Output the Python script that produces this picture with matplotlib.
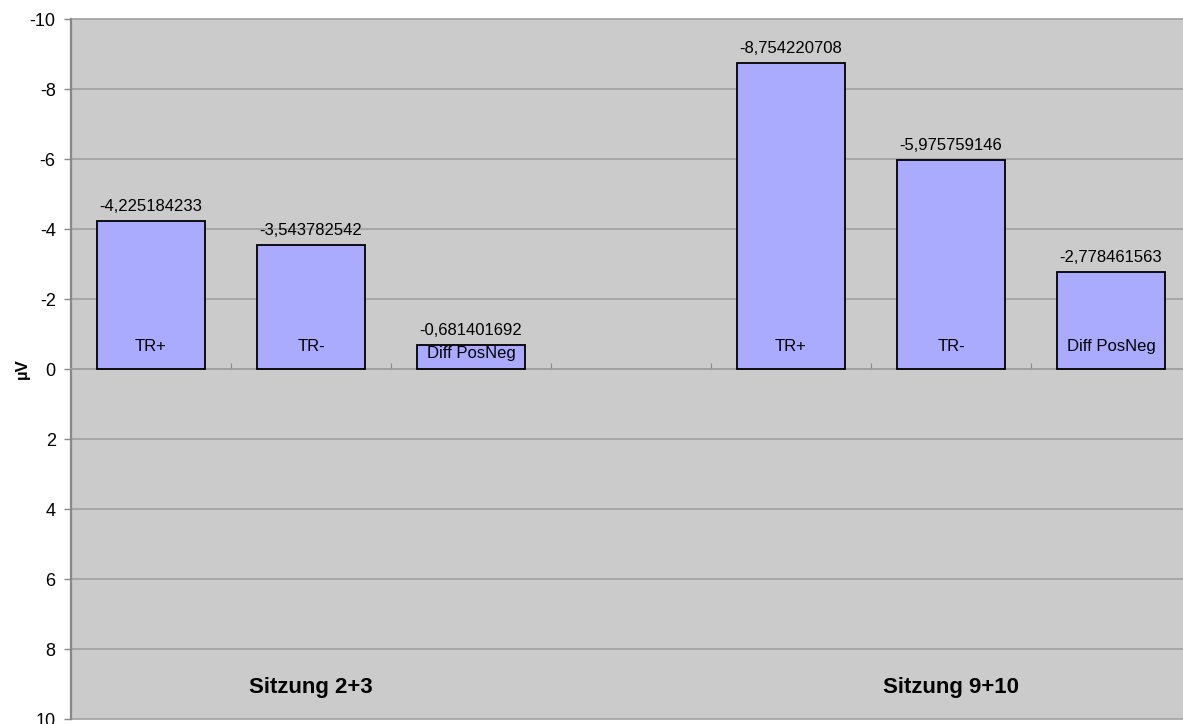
import matplotlib
matplotlib.use("Agg")
import matplotlib.pyplot as plt
import numpy as np

# Session groups and the measures shown for each
groups = ["Sitzung 2+3", "Sitzung 9+10"]
measures = ["TR+", "TR-", "Diff PosNeg"]
values_s23 = [-4.225184233, -3.543782542, -0.681401692]
values_s910 = [-8.754220708, -5.975759146, -2.778461563]
y_ticks = [-10, -8, -6, -4, -2, 0, 2, 4, 6, 8, 10]

plt.rcParams["font.family"] = ["Liberation Sans", "DejaVu Sans"]

fig = plt.figure(figsize=(11.83, 7.24), dpi=100)
W, H = 1183, 724
left, right, top, bottom = 71, 1191, 19, 719
ax = fig.add_axes([left / W, (H - bottom) / H, (right - left) / W, (bottom - top) / H])

bg = "#CBCBCB"
bar_color = "#AAAAFF"
grid_color = "#A0A0A0"
axis_color = "#888888"

ax.set_facecolor(bg)

# Seven slots: three bars, one empty gap, three bars
positions_s23 = np.arange(3)
positions_s910 = np.arange(3) + 4
all_pos = np.concatenate([positions_s23, positions_s910])
all_vals = values_s23 + values_s910
all_names = measures + measures

ax.set_xlim(-0.5, 6.5)
ax.set_ylim(10, -10)

for yt in y_ticks:
    ax.axhline(yt, color=grid_color, lw=1.2, zorder=1, clip_on=False)

bars = ax.bar(all_pos, all_vals, width=0.675, color=bar_color,
              edgecolor="black", linewidth=1.3, zorder=3)

for p, v, name in zip(all_pos, all_vals, all_names):
    ax.annotate(f"{v:.9f}".replace(".", ","), xy=(p, v), xytext=(0, 5),
                textcoords="offset points", ha="center", va="bottom",
                fontsize=12, color="black", zorder=5)
    # name sits near the base; in a very short bar it fills the bar
    name_y = -0.45 if abs(v) < 1 else -0.63
    ax.text(p, name_y, name, ha="center", va="center", fontsize=12,
            color="black", zorder=5)

for g, pos in zip(groups, [positions_s23, positions_s910]):
    ax.text(pos.mean(), 9.1, g, ha="center", va="center", fontsize=16,
            fontweight="bold", color="black", zorder=5)

# Category axis runs along zero with small tick marks between slots
ax.spines["bottom"].set_position(("data", 0))
ax.spines["bottom"].set_color(grid_color)
ax.spines["bottom"].set_linewidth(1.2)
ax.spines["top"].set_visible(False)
ax.spines["right"].set_visible(False)
ax.spines["left"].set_color(axis_color)
ax.spines["left"].set_linewidth(1.6)

ax.set_xticks(np.arange(0.5, 6.5, 1.0))
ax.set_xticklabels([])
ax.tick_params(axis="x", direction="in", length=4, width=0.8, color=axis_color)

ax.set_yticks(y_ticks)
ax.set_yticklabels([str(t) for t in y_ticks])
ax.tick_params(axis="y", direction="out", length=5, width=1.0,
               color=axis_color, labelsize=13, pad=6)

fig.text(22 / W, 1 - 369 / H, "µV", rotation=90, ha="center", va="center",
         fontsize=12, fontweight="bold")

fig.savefig("out.png", dpi=100, facecolor="white")
